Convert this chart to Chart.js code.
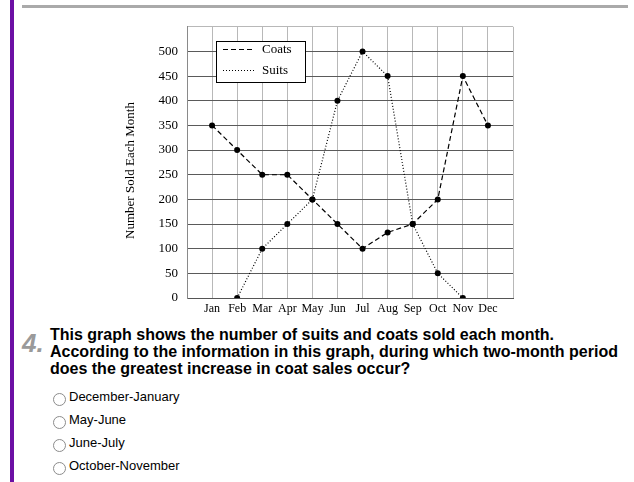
<!DOCTYPE html>
<html>
<head>
<meta charset="utf-8">
<script src="https://cdn.jsdelivr.net/npm/chart.js@4/dist/chart.umd.min.js"></script>
<style>
  html, body { margin:0; padding:0; background:#fff; }
  body { width:634px; height:482px; position:relative; overflow:hidden; font-family:'Liberation Sans', Arial, sans-serif; }
  #bar { position:absolute; left:10px; top:0; width:4px; height:482px; background:#6c0fa4; }
  #rule { position:absolute; left:22px; top:5px; width:606px; height:3px; background:#aaaaaa; }
  #wrap { position:absolute; left:100px; top:10px; width:420px; height:310px; }
  #num { position:absolute; left:22px; top:330px; font:italic bold 26px/26px 'Liberation Sans', Arial, sans-serif; color:#9a9a9a; }
  #q { position:absolute; left:50px; top:326px; font:bold 16px/17px 'Liberation Sans', Arial, sans-serif; color:#000; white-space:nowrap; }
  .opt { position:absolute; left:69px; font:13px/15px 'Liberation Sans', Arial, sans-serif; color:#000; white-space:nowrap; }
  .rad { position:absolute; left:53px; width:11px; height:11px; border:1px solid #8c8c8c; border-radius:50%; background:#fff; }
</style>
</head>
<body>
<div id="bar"></div>
<div id="rule"></div>
<div id="wrap"><canvas id="c" width="420" height="310"></canvas></div>
<div id="num">4.</div>
<div id="q">This graph shows the number of suits and coats sold each month.<br>According to the information in this graph, during which two-month period<br>does the greatest increase in coat sales occur?</div>
<div class="rad" style="top:393px"></div><div class="opt" style="top:389px">December-January</div>
<div class="rad" style="top:416px"></div><div class="opt" style="top:412px">May-June</div>
<div class="rad" style="top:439px"></div><div class="opt" style="top:435px">June-July</div>
<div class="rad" style="top:462px"></div><div class="opt" style="top:458px">October-November</div>
<script>
const months = ['Jan','Feb','Mar','Apr','May','Jun','Jul','Aug','Sep','Oct','Nov','Dec'];
const coats  = [350, 300, 250, 250, 200, 150, 100, 133, 150, 200, 450, 350];
const suits  = [null, 0, 100, 150, 200, 400, 500, 450, 150, 50, 0, null];
const yTickLabels = [0, 50, 100, 150, 200, 250, 300, 350, 400, 450, 500];
const yTitle = 'Number Sold Each Month';

const SERIF = "'Liberation Serif', 'Times New Roman', serif";

function toPoints(arr) {
  return arr.map((v, i) => ({ x: i + 1, y: v }));
}

const overlay = {
  id: 'overlay',
  afterDatasetsDraw(chart) {
    const ctx = chart.ctx;
    const ca = chart.chartArea;
    ctx.save();
    const bx = Math.round(ca.left + 29), by = Math.round(ca.top + 14), bw = 89, bh = 41;
    ctx.fillStyle = '#fff';
    ctx.fillRect(bx, by, bw, bh);
    ctx.strokeStyle = '#000';
    ctx.lineWidth = 1;
    ctx.setLineDash([]);
    ctx.strokeRect(bx + 0.5, by + 0.5, bw, bh);
    ctx.font = '13px ' + SERIF;
    ctx.textBaseline = 'middle';
    ctx.textAlign = 'left';
    chart.data.datasets.forEach((ds, i) => {
      const y = by + 8.5 + i * 21;
      ctx.beginPath();
      ctx.setLineDash(ds.borderDash);
      ctx.lineWidth = ds.borderWidth;
      ctx.strokeStyle = '#000';
      ctx.moveTo(bx + 7, y);
      ctx.lineTo(bx + 39, y);
      ctx.stroke();
      ctx.setLineDash([]);
      ctx.fillStyle = '#000';
      ctx.fillText(ds.label, bx + 46, y);
    });
    ctx.restore();
  },
  afterDraw(chart) {
    const ctx = chart.ctx;
    ctx.save();
    ctx.translate(31, 160.5);
    ctx.rotate(-Math.PI / 2);
    ctx.font = '13px ' + SERIF;
    ctx.fillStyle = '#000';
    ctx.textAlign = 'center';
    ctx.textBaseline = 'middle';
    ctx.fillText(yTitle, 0, 0);
    ctx.restore();
  }
};

new Chart(document.getElementById('c'), {
  type: 'line',
  data: {
    datasets: [
      {
        label: 'Coats',
        data: toPoints(coats),
        borderColor: '#000',
        borderWidth: 1.2,
        borderDash: [5, 3],
        pointRadius: 3,
        pointBackgroundColor: '#000',
        pointBorderWidth: 0,
        fill: false,
        tension: 0
      },
      {
        label: 'Suits',
        data: toPoints(suits),
        borderColor: '#000',
        borderWidth: 1.2,
        borderDash: [1, 2],
        pointRadius: 3,
        pointBackgroundColor: '#000',
        pointBorderWidth: 0,
        fill: false,
        tension: 0
      }
    ]
  },
  options: {
    responsive: false,
    devicePixelRatio: 1,
    animation: false,
    layout: { padding: { top: 13, right: 7, left: 0, bottom: 0 } },
    plugins: { legend: { display: false }, tooltip: { enabled: false }, title: { display: false } },
    scales: {
      x: {
        type: 'linear',
        min: 0,
        max: months.length + 1,
        afterFit(s) { s.height = 22; },
        ticks: {
          stepSize: 1,
          autoSkip: false,
          maxRotation: 0,
          padding: 4,
          color: '#000',
          font: { family: SERIF, size: 12 },
          callback: (v) => months[v - 1] || ''
        },
        grid: { color: '#b8b8b8', lineWidth: 1, drawTicks: false },
        border: { color: '#555', width: 1 }
      },
      y: {
        min: 0,
        max: 550,
        afterFit(s) { s.width = 87; },
        ticks: {
          stepSize: 50,
          padding: 9,
          color: '#000',
          font: { family: SERIF, size: 13 },
          callback: (v) => yTickLabels.includes(v) ? String(v) : ''
        },
        grid: {
          color: (c) => (c.tick && c.tick.value === 550) ? '#b8b8b8' : '#5a5a5a',
          lineWidth: 1,
          drawTicks: false
        },
        border: { color: '#8a8a8a', width: 1 }
      }
    }
  },
  plugins: [overlay]
});
</script>
</body>
</html>
